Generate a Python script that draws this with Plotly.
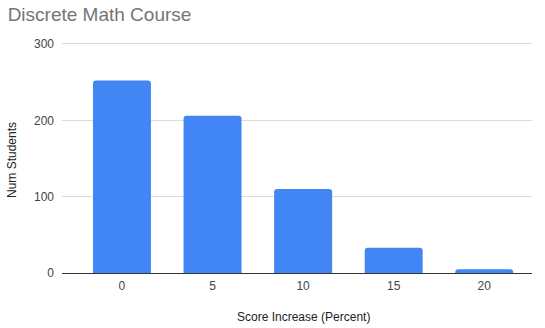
import plotly.graph_objects as go

categories = ["0", "5", "10", "15", "20"]
num_students = [252, 206, 110, 33, 5]
y_ticks = [0, 100, 200, 300]

fig = go.Figure()
fig.add_trace(go.Bar(
    x=categories, y=num_students,
    marker=dict(color="#4285F4", cornerradius=3, line=dict(width=0)),
    width=0.64,
))

fig.update_layout(
    width=545, height=328,
    margin=dict(l=62, r=13, t=40, b=55),
    paper_bgcolor="white", plot_bgcolor="white",
    font=dict(family="Liberation Sans, Arial, sans-serif", size=12, color="#444444"),
    showlegend=False,
    title=dict(text="Discrete Math Course", x=0.014, xanchor="left", y=0.955, yanchor="middle",
               font=dict(size=19, color="#757575")),
    xaxis=dict(type="category", range=[-0.662, 4.527], showgrid=False, showline=False,
               ticks="", ticklabelstandoff=4, tickfont=dict(size=12, color="#444444")),
    yaxis=dict(range=[0, 305.2], tickvals=y_ticks, showgrid=True, gridcolor="#dcdcdc",
               gridwidth=1, zeroline=True, zerolinecolor="#333333", zerolinewidth=1,
               showline=False, ticks="", ticklabelstandoff=7,
               tickfont=dict(size=12, color="#444444")),
    annotations=[
        dict(text="Score Increase (Percent)", xref="paper", yref="paper",
             x=(303 - 62) / 470, y=-(317 - 273) / 233, xanchor="center", yanchor="middle",
             showarrow=False, font=dict(size=12, color="#222222")),
        dict(text="Num Students", xref="paper", yref="paper", textangle=-90,
             x=-(62 - 12) / 470, y=(273 - 160) / 233, xanchor="center", yanchor="middle",
             showarrow=False, font=dict(size=12, color="#222222")),
    ],
)

fig.write_html("out.html")
